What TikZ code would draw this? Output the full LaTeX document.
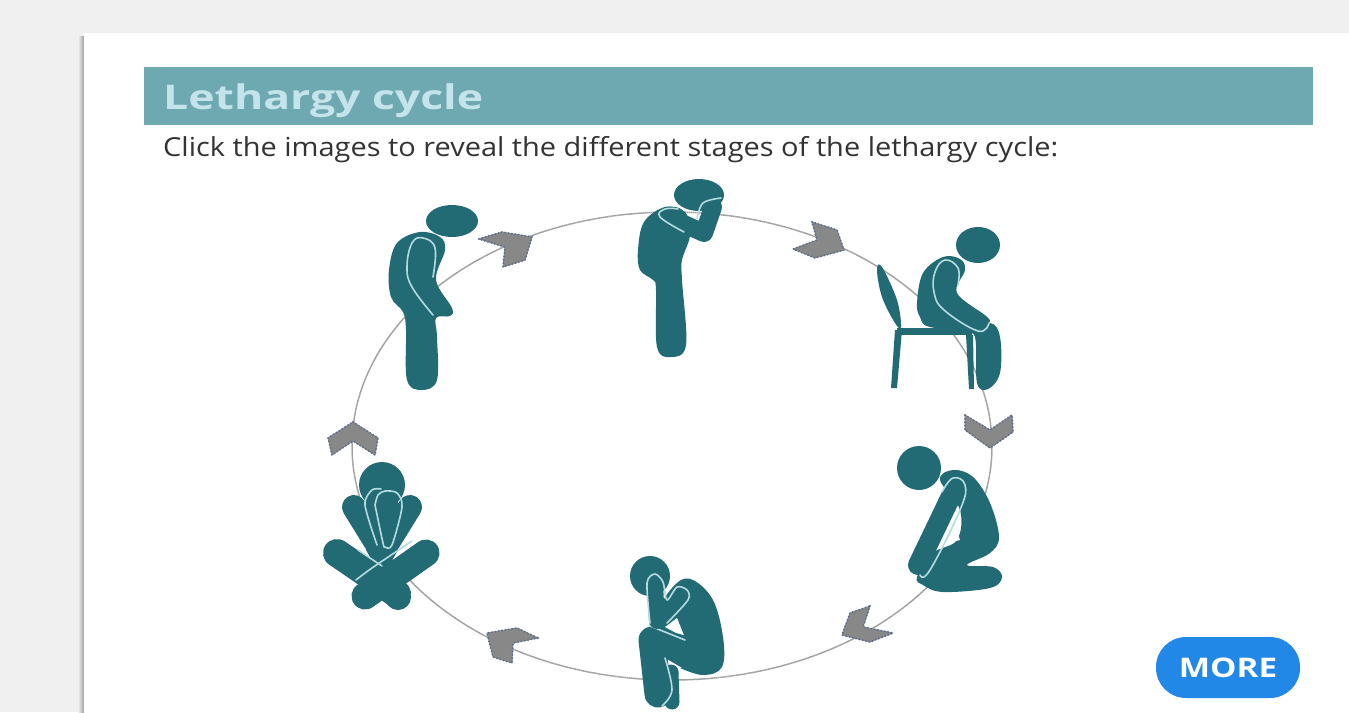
\documentclass[tikz,border=0pt]{standalone}
\usepackage{fontspec}
\setmainfont{Open Sans}
\definecolor{pagebg}{HTML}{F0F0F0}
\definecolor{teal1}{HTML}{226B75}
\definecolor{limbline}{HTML}{B5DBE0}
\definecolor{barcol}{HTML}{6EA8B0}
\definecolor{titlecol}{HTML}{C5E3EA}
\definecolor{btncol}{HTML}{2188E8}
\definecolor{chevfill}{HTML}{888888}
\definecolor{chevedge}{HTML}{5A6C90}
\definecolor{ringcol}{HTML}{A0A0A0}
\definecolor{bodytext}{HTML}{333333}
\tikzset{
  x=1pt,y=-1pt,
  figfill/.style={fill=teal1,draw=none},
  limbfront/.style={draw=teal1,line cap=round,line join=round},
  seamline/.style={draw=limbline,line width=1.6,line cap=round,line join=round},
  chevbody/.style={fill=chevfill,draw=chevfill,line width=.8,line join=round},
  chevbeads/.style={draw=chevedge,line width=2.1,line cap=round,dash pattern=on 0pt off 3.4pt},
  ring/.style={draw=ringcol,line width=1.5,dash pattern=on 1.6pt off .4pt},
}
\newcommand{\chev}[1]{\fill[chevbody] #1; \draw[chevbeads] #1;}
\begin{document}
\begin{tikzpicture}
\useasboundingbox (0,0) rectangle (1349,712);
\fill[pagebg] (0,0) rectangle (1349,712);
\shade[left color=pagebg,right color=gray!75] (78,36) rectangle (84,712);
\fill[white] (84,33) rectangle (1349,712);
\fill[barcol] (144,67) rectangle (1313,125);
\node[anchor=base west,inner sep=0,text=titlecol,font=\fontsize{34}{40}\selectfont\bfseries] (title) at (163,109) {\scalebox{1.31}[1]{Lethargy cycle}};
\node[anchor=base west,inner sep=0,text=bodytext,font=\fontsize{26.2}{30}\selectfont] (intro) at (163,156) {\scalebox{1.105}[1]{Click the images to reveal the different stages of the lethargy cycle:}};

% ring
\draw[ring] (672,446) ellipse [x radius=320,y radius=234];

% chevrons
\chev{(479,239)--(502,232)--(532,237)--(525,260)--(503,267)--(505,247)--cycle}
\chev{(812,222)--(837,230)--(844,250)--(815,258)--(793,249)--(817,240)--cycle}
\chev{(965,415)--(990,430)--(1012,415)--(1013,432)--(990,448)--(965,430)--cycle}
\chev{(870,606)--(863,627)--(893,633)--(870,642)--(842,635)--(850,613)--cycle}
\chev{(538,638)--(513,643)--(512,663)--(493,657)--(487,633)--(517,628)--cycle}
\chev{(353,422)--(378,438)--(375,455)--(353,441)--(332,455)--(328,438)--cycle}

% figure 1: standing, head bowed
\fill[teal1] (452,221) ellipse [x radius=26,y radius=16];
\fill[figfill] plot[smooth cycle,tension=.6] coordinates {(389,270)(397,243)(420,232)(440,237)(445,250)(436,280)(452,308)(450,316)(436,318)(437,337)(437,380)(422,390)(407,380)(406,330)(403,312)(391,297)};
\draw[seamline] plot[smooth,tension=.7] coordinates {(433,277)(435,248)(423,238)(412,243)(407,267)(412,287)(433,315)};

% figure 2: standing, hands on face
\fill[teal1] (699,195) ellipse [x radius=25,y radius=16];
\fill[figfill] plot[smooth cycle,tension=.6] coordinates {(638,250)(644,222)(665,207)(685,212)(690,235)(682,260)(682,280)(686,345)(671,357)(657,347)(656,290)(653,280)(640,270)};
\draw[limbfront,line width=18] (668,217)--(704,233)--(713,207);
\draw[seamline] plot[smooth,tension=.7] coordinates {(678,209)(665,209)(660,217)(684,232)};
\draw[seamline] plot[smooth,tension=.6] coordinates {(697,219)(703,203)(721,198)};

% figure 3: seated on chair
\fill[teal1] (978,245) ellipse [x radius=22,y radius=18];
\fill[figfill] plot[smooth cycle,tension=.6] coordinates {(877,270)(882,267)(897,300)(901,327)(895,323)(882,297)};
\fill[figfill] (897,328) rectangle (972,335);
\fill[figfill] (895,330)--(902,330)--(897,388)--(891,388)--cycle;
\fill[figfill] (966,335)--(973,335)--(974,389)--(969,389)--cycle;
\fill[figfill] plot[smooth cycle,tension=.6] coordinates {(990,323)(1000,337)(1000,373)(988,389)(977,383)(975,337)(962,330)};
\fill[figfill] plot[smooth cycle,tension=.6] coordinates {(917,303)(923,273)(943,257)(960,259)(965,270)(957,293)(986,316)(989,323)(978,331)(930,327)(920,317)};
\draw[seamline] plot[smooth,tension=.7] coordinates {(958,285)(958,268)(945,260)(935,272)(934,292)(944,310)(978,331)(989,323)};

% figure 4: kneeling
\fill[teal1] (919,468) circle [radius=22];
\fill[figfill] plot[smooth cycle,tension=.6] coordinates {(940,480)(953,470)(973,477)(990,503)(999,537)(990,553)(967,565)(993,567)(1002,577)(990,588)(943,592)(923,585)(917,577)(933,553)(957,540)(960,510)};
\fill[white] (956,527)--(960,540)--(948,543)--cycle;
\draw[limbfront,line width=20] (954,490)--(918,565);
\draw[seamline] plot[smooth,tension=.7] coordinates {(942,492)(953,478)(965,485)(960,510)(930,570)(920,575)};

% figure 5: curled up, seen from the side
\fill[teal1] (650,576) circle [radius=20];
\fill[figfill] plot[smooth cycle,tension=.6] coordinates {(677,583)(693,580)(713,600)(723,637)(722,667)(703,675)(677,667)(660,660)(660,610)};
\fill[white] (677,618)--(685,638)--(665,627)--cycle;
\fill[white] (665,658)--(682,668)--(667,670)--cycle;
\draw[limbfront,line width=15] (671,672)--(672,702);
\draw[limbfront,line width=27] (703,655)--(652,640)--(658,694);
\draw[seamline] plot[smooth,tension=.6] coordinates {(665,658)(672,690)(662,706)};
\draw[seamline] (650,626)--(685,640);
\draw[limbfront,line width=16] (655,584)--(657,621);
\draw[limbfront,line width=15] (680,593)--(665,617);
\draw[seamline] plot[smooth,tension=.5] coordinates {(650,623)(647,583)(655,574)(663,582)(667,600)(677,587)(687,590)(688,600)(667,623)};

% figure 6: seated, legs crossed
\fill[teal1] (382,485) circle [radius=23];
\draw[limbfront,line width=24] (354,507)--(375,541);
\draw[limbfront,line width=24] (410,507)--(389,541);
\fill[figfill] (365,498)--(398,498)--(398,550)--(382,578)--(366,550)--cycle;
\draw[seamline] plot[smooth,tension=.5] coordinates {(375,505)(378,495)(385,491)(397,493)(402,507)(392,545)(385,547)(383,543)(375,505)};
\draw[seamline] plot[smooth,tension=.5] coordinates {(381,489)(372,490)(365,505)(377,545)};
\fill[teal1] (398,597) circle [radius=13];
\draw[limbfront,line width=28] (337,553)--(397,594);
\draw[seamline] (358,550)--(382,566);
\draw[limbfront,line width=27] (426,553)--(365,596);
\draw[seamline] plot[smooth,tension=.5] coordinates {(412,541)(372,568)(356,580)};

% button
\fill[btncol,rounded corners=30] (1156,637) rectangle (1300,698);
\node[anchor=center,inner sep=0,text=white,font=\fontsize{27}{30}\selectfont\bfseries] (more) at (1228,668) {\scalebox{1.23}[1]{MORE}};
\end{tikzpicture}
\end{document}
